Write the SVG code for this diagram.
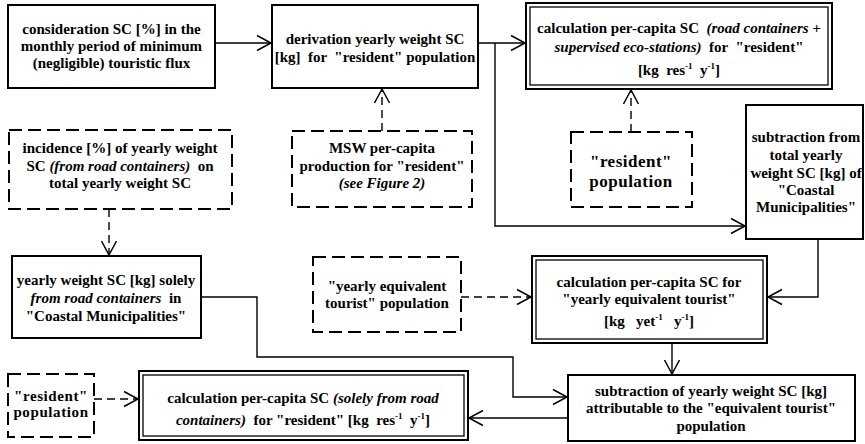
<svg xmlns="http://www.w3.org/2000/svg" width="865" height="444" viewBox="0 0 865 444" font-family="Liberation Serif, DejaVu Serif, serif">
<style>
text{font-family:"Liberation Serif","DejaVu Serif",serif;font-weight:bold;font-size:15px;fill:#000;text-anchor:middle;white-space:pre}
.i{font-style:italic}
.sup{font-size:9px}
.big{font-size:17px;letter-spacing:0.5px}
.box{fill:#fff;stroke:#000;stroke-width:2}
.dbox{fill:#fff;stroke:#000;stroke-width:2;stroke-dasharray:13 6}
.outer{fill:#fff;stroke:#000;stroke-width:2}
.inner{fill:none;stroke:#000;stroke-width:1.3}
.c{fill:none;stroke:#000;stroke-width:1.4;marker-end:url(#ah)}
.cd{fill:none;stroke:#000;stroke-width:1.4;stroke-dasharray:8 5;marker-end:url(#ah)}
</style>
<defs>
<marker id="ah" markerUnits="userSpaceOnUse" markerWidth="20" markerHeight="20" viewBox="-16 -10 18 20" refX="0" refY="0" orient="auto">
<path d="M-14,-7.5 L0,0 L-14,7.5" fill="none" stroke="#000" stroke-width="1.5" stroke-dasharray="none"/>
</marker>
</defs>
<rect width="865" height="444" fill="#fff"/>

<g id="connectors">
<path class="c" d="M215,43 H271"/>
<path class="c" d="M478,43 H525"/>
<path class="c" d="M495,43 V226 H745"/>
<path class="cd" d="M382,131 V89"/>
<path class="cd" d="M631,132 V90"/>
<path class="cd" d="M109,209 V255"/>
<path class="cd" d="M461,297 H531"/>
<path class="c" d="M818,239 V297 H768"/>
<path class="c" d="M672,343 V374"/>
<path class="c" d="M201,297 H257 V357 H513 V397 H567"/>
<path class="c" d="M568,418 H469"/>
<path class="cd" d="M94,399 H138"/>
</g>

<g id="n-consideration">
<rect class="box" x="8" y="5" width="207" height="83"/>
<text x="111.5" y="34">consideration SC [%] in the</text>
<text x="111.5" y="51">monthly period of minimum</text>
<text x="111.5" y="68">(negligible) touristic flux</text>
</g>

<g id="n-derivation">
<rect class="box" x="272" y="5" width="206" height="83"/>
<text x="375" y="44">derivation yearly weight SC</text>
<text x="375" y="62">[kg]  for  "resident" population</text>
</g>

<g id="n-calc-resident">
<rect class="outer" x="526" y="3" width="306" height="86"/>
<rect class="inner" x="530" y="7" width="298" height="78"/>
<text x="679" y="33">calculation per-capita SC  <tspan class="i">(road containers +</tspan></text>
<text x="679" y="52"><tspan class="i">supervised eco-stations)</tspan>  for  "resident"</text>
<text x="679" y="75">[kg  res<tspan class="sup" dy="-6">-1</tspan><tspan dy="6">  y</tspan><tspan class="sup" dy="-6">-1</tspan><tspan dy="6">]</tspan></text>
</g>

<g id="n-msw">
<rect class="dbox" x="292" y="131" width="180" height="76"/>
<text x="382" y="153">MSW per-capita</text>
<text x="382" y="171">production for "resident"</text>
<text x="382" y="188" class="i">(see Figure 2)</text>
</g>

<g id="n-incidence">
<rect class="dbox" x="9" y="130" width="223" height="79"/>
<text x="120" y="153">incidence [%] of yearly weight</text>
<text x="120" y="171">SC <tspan class="i">(from road containers)</tspan>  on</text>
<text x="120" y="188">total yearly weight SC</text>
</g>

<g id="n-resident-top">
<rect class="dbox" x="571" y="132" width="121" height="75"/>
<text x="631" y="167" class="big">"resident"</text>
<text x="631" y="187" class="big">population</text>
</g>

<g id="n-subtraction-total">
<rect class="box" x="746" y="105" width="117" height="134"/>
<text x="806" y="142">subtraction from</text>
<text x="806" y="160">total yearly</text>
<text x="806" y="178">weight SC [kg] of</text>
<text x="806" y="195">"Coastal</text>
<text x="806" y="212">Municipalities"</text>
</g>

<g id="n-yearly-weight">
<rect class="box" x="12" y="256" width="189" height="82"/>
<text x="106" y="285">yearly weight SC [kg] solely</text>
<text x="106" y="303"><tspan class="i">from road containers</tspan>  in</text>
<text x="106" y="321">"Coastal Municipalities"</text>
</g>

<g id="n-yearly-equivalent">
<rect class="dbox" x="313" y="257" width="148" height="75"/>
<text x="387" y="291">"yearly equivalent</text>
<text x="387" y="308">tourist" population</text>
</g>

<g id="n-calc-tourist">
<rect class="outer" x="532" y="256" width="235" height="87"/>
<rect class="inner" x="536" y="260" width="227" height="79"/>
<text x="649" y="287">calculation per-capita SC for</text>
<text x="649" y="304">"yearly equivalent tourist"</text>
<text x="649" y="326">[kg   yet<tspan class="sup" dy="-6">-1</tspan><tspan dy="6">   y</tspan><tspan class="sup" dy="-6">-1</tspan><tspan dy="6">]</tspan></text>
</g>

<g id="n-subtraction-tourist">
<rect class="box" x="568" y="375" width="287" height="66"/>
<text x="711" y="396">subtraction of yearly weight SC [kg]</text>
<text x="711" y="413">attributable to the "equivalent tourist"</text>
<text x="711" y="431">population</text>
</g>

<g id="n-calc-resident-road">
<rect class="outer" x="139" y="371" width="329" height="69"/>
<rect class="inner" x="143" y="375" width="321" height="61"/>
<text x="303" y="403">calculation per-capita SC <tspan class="i">(solely from road</tspan></text>
<text x="303" y="425"><tspan class="i">containers)</tspan>  for "resident" [kg  res<tspan class="sup" dy="-6">-1</tspan><tspan dy="6">  y</tspan><tspan class="sup" dy="-6">-1</tspan><tspan dy="6">]</tspan></text>
</g>

<g id="n-resident-bottom">
<rect class="dbox" x="8" y="374" width="86" height="63"/>
<text x="51" y="401" style="letter-spacing:0.6px">"resident"</text>
<text x="51" y="417" style="letter-spacing:0.6px">population</text>
</g>
</svg>
